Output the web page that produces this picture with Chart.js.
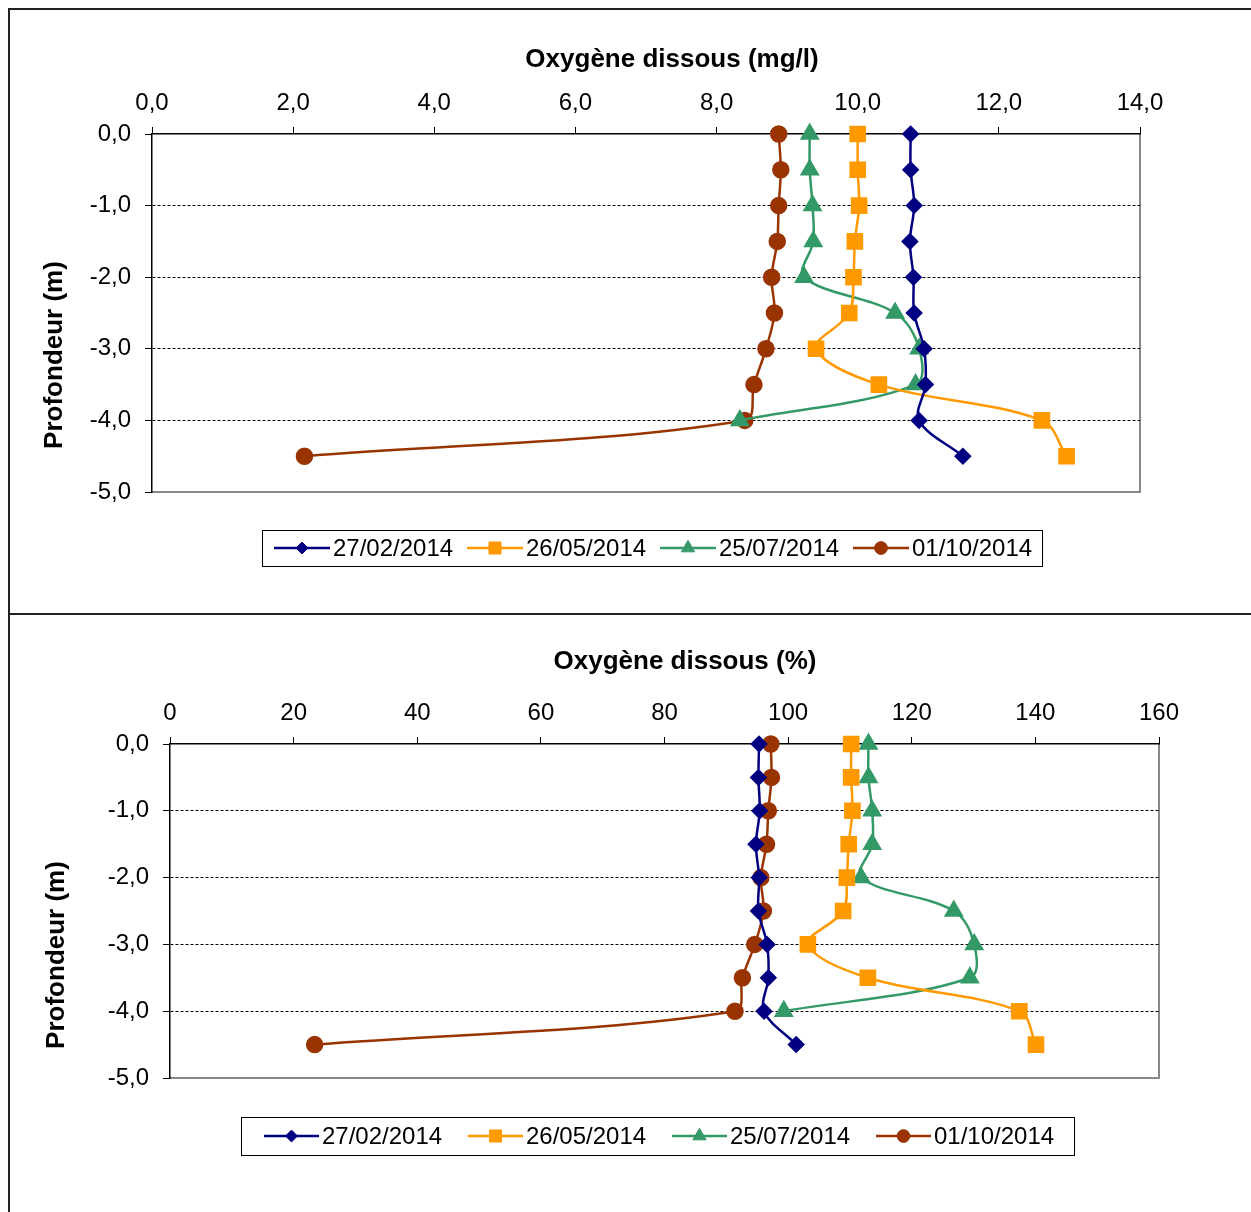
<!DOCTYPE html>
<html>
<head>
<meta charset="utf-8">
<script src="https://cdn.jsdelivr.net/npm/chart.js@4.4.0/dist/chart.umd.min.js"></script>
<style>
    body { margin: 0; background: #fff; width: 1251px; height: 1212px; position: relative; overflow: hidden; }
    canvas { position: absolute; left: 0; }
    #chart-mg { top: 0; }
    #chart-pct { top: 614px; }
    .frame { position: absolute; background: #222; }
</style>
</head>
<body>
<canvas id="chart-mg" width="1251" height="614"></canvas>
<canvas id="chart-pct" width="1251" height="598"></canvas>
<div class="frame" style="left:8px; top:8px; width:1243px; height:2px;"></div>
<div class="frame" style="left:8px; top:8px; width:2px; height:1204px;"></div>
<div class="frame" style="left:8px; top:613px; width:1243px; height:2px;"></div>
<script>
// Depths (m) and sampling dates
const depths = [0, -0.5, -1, -1.5, -2, -2.5, -3, -3.5, -4, -4.5];
const dates = ['27/02/2014', '26/05/2014', '25/07/2014', '01/10/2014'];

// Dissolved oxygen in mg/l (one value per depth, top to bottom)
const mgFeb = [10.75, 10.75, 10.80, 10.74, 10.79, 10.80, 10.94, 10.96, 10.87, 11.49];
const mgMay = [10.00, 10.00, 10.02, 9.96, 9.94, 9.88, 9.41, 10.30, 12.61, 12.96];
const mgJul = [9.32, 9.32, 9.36, 9.37, 9.24, 10.53, 10.87, 10.82, 8.33];
const mgOct = [8.88, 8.91, 8.88, 8.86, 8.78, 8.82, 8.70, 8.53, 8.40, 2.16];

// Dissolved oxygen in % saturation
const pctFeb = [95.3, 95.2, 95.4, 94.8, 95.3, 95.2, 96.6, 96.8, 96.1, 101.3];
const pctMay = [110.2, 110.2, 110.4, 109.8, 109.5, 108.9, 103.2, 112.9, 137.4, 140.1];
const pctJul = [113.0, 113.0, 113.6, 113.6, 111.8, 126.8, 130.1, 129.4, 99.3];
const pctOct = [97.2, 97.3, 96.8, 96.5, 95.6, 96.0, 94.6, 92.6, 91.4, 23.4];

// Axis ticks
const mgTicks = [0, 2, 4, 6, 8, 10, 12, 14];
const pctTicks = [0, 20, 40, 60, 80, 100, 120, 140, 160];
const depthTicks = [0, -1, -2, -3, -4, -5];

const colors = ['#000080', '#FF9900', '#339966', '#993300'];
const markers = ['rectRot', 'rect', 'triangle', 'circle'];
const radii = [7, 10, 9, 7.5];
const fontFamily = '"Liberation Sans", Arial, sans-serif';

Chart.defaults.font.family = fontFamily;
Chart.defaults.font.size = 24;
Chart.defaults.color = '#000';

const makeDatasets = (series) => series.map((values, i) => ({
    label: dates[i],
    data: values.map((v, k) => ({ x: v, y: depths[k] })),
    borderColor: colors[i],
    backgroundColor: colors[i],
    pointBackgroundColor: colors[i],
    pointBorderColor: colors[i],
    pointStyle: markers[i],
    pointRadius: radii[i],
    pointHoverRadius: radii[i],
    borderWidth: 2.5,
    showLine: true,
    tension: 0.35,
    clip: false
}));

// Gray box on the right and bottom sides of the plot
const plotBox = {
    id: 'plotBox',
    beforeDraw(chart) {
        const { ctx, chartArea: a } = chart;
        ctx.save();
        ctx.strokeStyle = '#888';
        ctx.lineWidth = 2;
        ctx.beginPath();
        ctx.moveTo(a.left, a.bottom);
        ctx.lineTo(a.right, a.bottom);
        ctx.lineTo(a.right, a.top);
        ctx.stroke();
        ctx.restore();
    }
};

// Axis titles placed like the Excel original
const axisTitles = {
    id: 'axisTitles',
    afterDraw(chart, args, opts) {
        const ctx = chart.ctx;
        ctx.save();
        ctx.font = 'bold 26px ' + fontFamily;
        ctx.fillStyle = '#000';
        ctx.textAlign = 'center';
        ctx.textBaseline = 'middle';
        ctx.fillText(opts.xText, opts.xAt[0], opts.xAt[1]);
        ctx.translate(opts.yAt[0], opts.yAt[1]);
        ctx.rotate(-Math.PI / 2);
        ctx.fillText(opts.yText, 0, 0);
        ctx.restore();
    }
};

// Boxed legend with line + marker samples
const legendBox = {
    id: 'legendBox',
    afterDraw(chart, args, opts) {
        const ctx = chart.ctx;
        ctx.save();
        ctx.strokeStyle = '#000';
        ctx.lineWidth = 1;
        ctx.strokeRect(opts.x + 0.5, opts.y + 0.5, opts.w, opts.h);
        const cy = opts.y + opts.h / 2;
        ctx.font = '24px ' + fontFamily;
        ctx.textBaseline = 'middle';
        chart.data.datasets.forEach((ds, i) => {
            const x0 = opts.first + i * opts.stride;
            ctx.strokeStyle = ds.borderColor;
            ctx.lineWidth = 2.5;
            ctx.beginPath();
            ctx.moveTo(x0, cy);
            ctx.lineTo(x0 + opts.line, cy);
            ctx.stroke();
            ctx.fillStyle = ds.pointBackgroundColor;
            ctx.lineWidth = 1;
            Chart.helpers.drawPoint(ctx, { pointStyle: ds.pointStyle, radius: ds.pointRadius * 0.85, borderWidth: 1, rotation: 0 }, x0 + opts.line / 2, cy);
            ctx.fillStyle = '#000';
            ctx.fillText(ds.label, x0 + opts.line + 3, cy + 1);
        });
        ctx.restore();
    }
};

const comma = (v, digits) => v.toFixed(digits).replace('.', ',').replace(/^-0,0$/, '0,0');

const makeChart = (id, series, xMax, xTicks, xDigits, box, titles, legend) => new Chart(document.getElementById(id), {
    type: 'scatter',
    data: { datasets: makeDatasets(series) },
    options: {
        responsive: false,
        animation: false,
        layout: { padding: { left: 0, top: 0, right: box.right, bottom: box.bottom } },
        plugins: {
            legend: { display: false },
            tooltip: { enabled: false },
            axisTitles: titles,
            legendBox: legend
        },
        scales: {
            x: {
                type: 'linear',
                position: 'top',
                min: 0,
                max: xMax,
                afterBuildTicks: (scale) => { scale.ticks = xTicks.map(v => ({ value: v })); },
                afterFit: (scale) => { scale.height = box.top; },
                ticks: { padding: 9, callback: (v) => comma(v, xDigits), maxRotation: 0 },
                grid: { drawOnChartArea: false, tickLength: 7, tickColor: '#000' },
                border: { color: '#000', width: 1.5 }
            },
            y: {
                type: 'linear',
                min: -5,
                max: 0,
                afterBuildTicks: (scale) => { scale.ticks = depthTicks.map(v => ({ value: v })); },
                afterFit: (scale) => { scale.width = box.left; },
                ticks: { padding: 14, callback: (v) => comma(v, 1) },
                grid: {
                    color: (c) => (c.tick && (c.tick.value === 0 || c.tick.value === -5)) ? 'rgba(0,0,0,0)' : '#000',
                    lineWidth: 1,
                    tickLength: 7,
                    tickColor: '#000'
                },
                border: { color: '#000', width: 1.5, dash: [3, 2] }
            }
        }
    },
    plugins: [plotBox, axisTitles, legendBox]
});

makeChart('chart-mg', [mgFeb, mgMay, mgJul, mgOct], 14, mgTicks, 1,
    { left: 152, top: 134, right: 1251 - 1140, bottom: 614 - 492 },
    { xText: 'Oxygène dissous (mg/l)', xAt: [672, 60], yText: 'Profondeur (m)', yAt: [55, 355] },
    { x: 262, y: 530, w: 780, h: 36, first: 274, stride: 193, line: 56 });

makeChart('chart-pct', [pctFeb, pctMay, pctJul, pctOct], 160, pctTicks, 0,
    { left: 170, top: 130, right: 1251 - 1159, bottom: 1212 - 1078 },
    { xText: 'Oxygène dissous (%)', xAt: [685, 48], yText: 'Profondeur (m)', yAt: [57, 341] },
    { x: 241, y: 503, w: 833, h: 38, first: 264, stride: 204, line: 55 });
</script>
</body>
</html>
